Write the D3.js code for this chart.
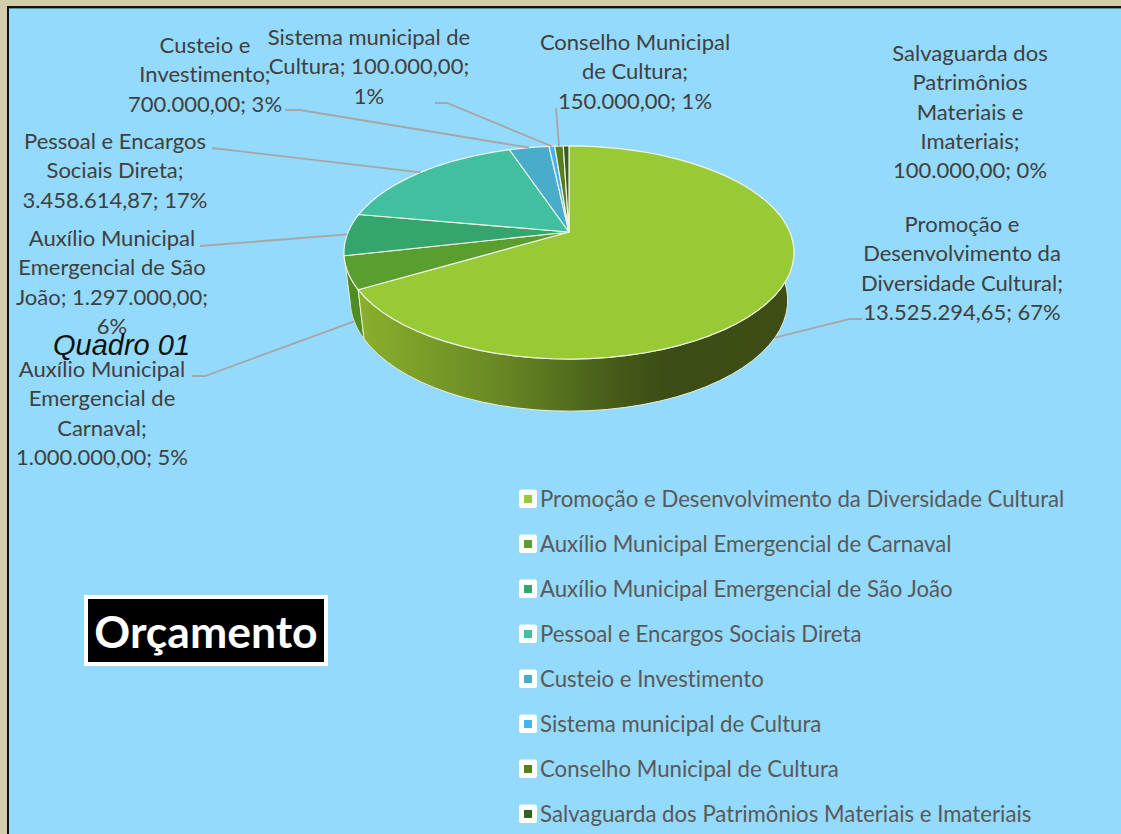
<!DOCTYPE html>
<html>
<head>
<meta charset="utf-8">
<script src="https://cdn.jsdelivr.net/npm/d3@7"></script>
<style>
  html, body { margin: 0; padding: 0; background: #d3cdab; overflow: hidden; }
  svg { display: block; }
  text { font-variant-ligatures: none; }
  .lbl { font-family: Lato, sans-serif; font-size: 22px; fill: #404040; text-anchor: middle; }
  .leg { font-family: Lato, sans-serif; font-size: 22.2px; fill: #595959; }
</style>
</head>
<body>
<div id="chart"></div>
<script>
const categories = [
    "Promoção e Desenvolvimento da Diversidade Cultural",
    "Auxílio Municipal Emergencial de Carnaval",
    "Auxílio Municipal Emergencial de São João",
    "Pessoal e Encargos Sociais Direta",
    "Custeio e Investimento",
    "Sistema municipal de Cultura",
    "Conselho Municipal de Cultura",
    "Salvaguarda dos Patrimônios Materiais e Imateriais"
];
const values = [13525294.65, 1000000, 1297000, 3458614.87, 700000, 100000, 150000, 100000];
const colors = ["#98ca35", "#5b9e30", "#33a56d", "#41bf9f", "#49acc9", "#41b6ee", "#587f1c", "#33601f"];

// label text, broken the way the picture breaks it
const labelLines = [
    ["Promoção e", "Desenvolvimento da", "Diversidade Cultural;", "13.525.294,65; 67%"],
    ["Auxílio Municipal", "Emergencial de", "Carnaval;", "1.000.000,00; 5%"],
    ["Auxílio Municipal", "Emergencial de São", "João; 1.297.000,00;", "6%"],
    ["Pessoal e Encargos", "Sociais Direta;", "3.458.614,87; 17%"],
    ["Custeio e", "Investimento;", "700.000,00; 3%"],
    ["Sistema municipal de", "Cultura; 100.000,00;", "1%"],
    ["Conselho Municipal", "de Cultura;", "150.000,00; 1%"],
    ["Salvaguarda dos", "Patrimônios", "Materiais e", "Imateriais;", "100.000,00; 0%"]
];
const labelX = [962, 102, 112, 115, 205, 369, 635, 970];
const labelY = [224, 369, 238, 141, 45, 37, 42, 53];
const lineGap = 29.4;

// where each leader leaves its label, the other end comes from the slice
const leaderStart = [[862, 319], [192, 376], [200, 246], [212, 148], [285, 110], [435, 103], [556, 108], null];
const leaderElbow = [[850, 319], [205, 376], null, null, [300, 110], [447, 103], null, null];
const leaderOnBase = [true, true, false, false, false, false, false, false];

const width = 1121, height = 834;

const svg = d3.select("#chart").append("svg")
    .attr("width", width)
    .attr("height", height);

// panel
svg.append("rect")
    .attr("x", 8).attr("y", 7)
    .attr("width", width).attr("height", height)
    .attr("fill", "#94dafc")
    .attr("stroke", "#111")
    .attr("stroke-width", 2);
svg.append("line").attr("x1", 9).attr("x2", width).attr("y1", 8.5).attr("y2", 8.5)
    .attr("stroke", "#5b8fa8").attr("stroke-width", 1);

// 3d projection of the pie, far side shrinks
const cx = 569, cy = 232, rx = 220.8, ry = 102.6, persp = 0.1925;
const topRim = a => {
    const w = 1 + persp * Math.cos(a);
    return [cx + rx * Math.sin(a) / w, cy - ry * Math.cos(a) / w];
};
const baseRim = a => {
    const w = 1 + persp * Math.cos(a);
    return [cx + 0.972 * rx * Math.sin(a) / w, cy + 47 - 1.04 * ry * Math.cos(a) / w];
};

const slices = d3.pie().sort(null)(values);
const sampled = (a0, a1) => d3.range(0, 61).map(i => a0 + (a1 - a0) * i / 60);
const line = d3.line();

const defs = svg.append("defs");
const sideGrad = defs.append("linearGradient").attr("id", "side0");
sideGrad.append("stop").attr("offset", "0").attr("stop-color", "#8ab02c");
sideGrad.append("stop").attr("offset", "0.33").attr("stop-color", "#688724");
sideGrad.append("stop").attr("offset", "0.6").attr("stop-color", "#435a18");
sideGrad.append("stop").attr("offset", "0.72").attr("stop-color", "#3b4c14");
sideGrad.append("stop").attr("offset", "1").attr("stop-color", "#3e4e15");

// sides first, the top covers what is behind
svg.append("g").selectAll("path")
    .data(slices.slice(0, 2).reverse())
    .join("path")
    .attr("d", d => {
        const angles = sampled(d.startAngle, d.endAngle);
        return line(angles.map(topRim).concat(angles.slice().reverse().map(baseRim))) + "Z";
    })
    .attr("fill", d => d.index === 0 ? "url(#side0)" : "#4f8c24")
    .attr("stroke", "#e8efdc")
    .attr("stroke-width", 1);

svg.append("g").selectAll("path")
    .data(slices)
    .join("path")
    .attr("d", d => line([[cx, cy]].concat(sampled(d.startAngle, d.endAngle).map(topRim))) + "Z")
    .attr("fill", (d, i) => colors[i])
    .attr("stroke", "#eef4e6")
    .attr("stroke-width", 1.2)
    .attr("stroke-linejoin", "round");

// leaders
svg.append("g").selectAll("path")
    .data(slices.filter(d => leaderStart[d.index]))
    .join("path")
    .attr("d", d => {
        const mid = (d.startAngle + d.endAngle) / 2;
        const end = leaderOnBase[d.index] ? baseRim(mid) : topRim(mid);
        const pts = [leaderStart[d.index]];
        if (leaderElbow[d.index]) pts.push(leaderElbow[d.index]);
        pts.push(end);
        return line(pts);
    })
    .attr("fill", "none")
    .attr("stroke", "#a6a6a6")
    .attr("stroke-width", 1.8);

// data labels
labelLines.forEach((lines, i) => {
    svg.append("g").selectAll("text")
        .data(lines)
        .join("text")
        .attr("class", "lbl")
        .attr("x", labelX[i])
        .attr("y", (d, j) => labelY[i] + j * lineGap)
        .attr("dy", "0.35em")
        .text(d => d);
});

// legend
const legendY = d3.scalePoint().domain(categories).range([499, 814]);
const legend = svg.append("g").selectAll("g")
    .data(categories)
    .join("g")
    .attr("transform", d => "translate(0," + legendY(d) + ")");
legend.append("rect")
    .attr("x", 519).attr("y", -9.5).attr("width", 18).attr("height", 18.5).attr("rx", 2.5)
    .attr("fill", "#fff");
legend.append("rect")
    .attr("x", 524).attr("y", -4).attr("width", 8).attr("height", 8)
    .attr("fill", (d, i) => colors[i]);
legend.append("text")
    .attr("class", "leg")
    .attr("x", 540)
    .attr("dy", "0.35em")
    .text(d => d);

// Quadro 01
svg.append("text")
    .attr("x", 53).attr("y", 355)
    .attr("font-family", "'Liberation Sans', Arial, sans-serif")
    .attr("font-style", "italic")
    .attr("font-size", 29)
    .attr("fill", "#111")
    .text("Quadro 01");

// Orçamento box
svg.append("rect")
    .attr("x", 86).attr("y", 597)
    .attr("width", 240).attr("height", 67)
    .attr("fill", "#000")
    .attr("stroke", "#fff")
    .attr("stroke-width", 4);
svg.append("text")
    .attr("x", 206).attr("y", 632)
    .attr("dy", "0.35em")
    .attr("text-anchor", "middle")
    .attr("font-family", "Lato, sans-serif")
    .attr("font-weight", 700)
    .attr("font-size", 44.5)
    .attr("fill", "#fff")
    .text("Orçamento");
</script>
</body>
</html>
